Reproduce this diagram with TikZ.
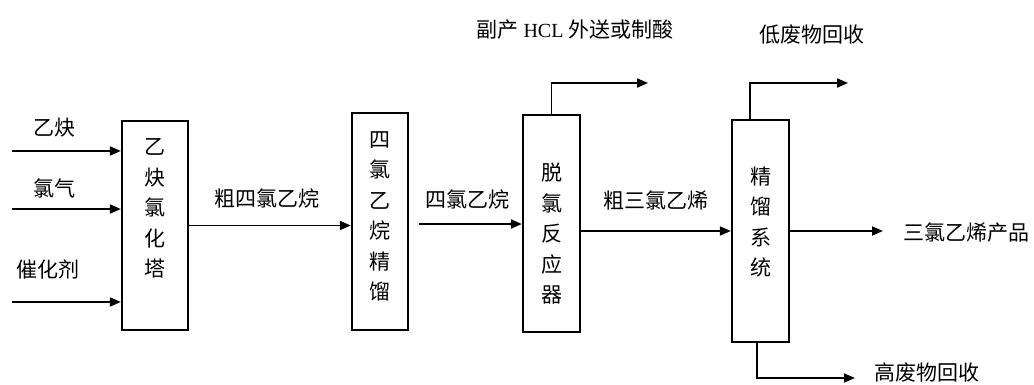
\documentclass[tikz,border=0pt]{standalone}
\usepackage{fontspec}
\setmainfont{Noto Sans CJK SC}
\newfontfamily\latinserif{Liberation Serif}
\usetikzlibrary{arrows.meta}
\begin{document}
\begin{tikzpicture}[x=1pt,y=-1pt,
  box/.style={draw, line width=2.3pt, inner sep=0pt},
  lbl/.style={inner sep=0pt, font=\fontsize{21}{30}\selectfont},
  vtext/.style={inner sep=0pt, align=center, font=\fontsize{21}{30.5}\selectfont},
  arr/.style={line width=1.9pt, -{Triangle[length=11pt,width=9pt]}}]
\useasboundingbox (0,0) rectangle (1034,385);

% boxes
\node[box, minimum width=66pt, minimum height=209pt] (b1) at (155,225.5) {};
\node[box, minimum width=56pt, minimum height=217pt] (b2) at (380,221.5) {};
\node[box, minimum width=57pt, minimum height=217pt] (b3) at (551.5,223.5) {};
\node[box, minimum width=57pt, minimum height=222pt] (b4) at (760.5,231) {};

% box texts
\node[vtext] (t1) at (155,208.5) {乙\\炔\\氯\\化\\塔};
\node[vtext] (t2) at (380,216.5) {四\\氯\\乙\\烷\\精\\馏};
\node[vtext] (t3) at (551.5,234) {脱\\氯\\反\\应\\器};
\node[vtext] (t4) at (760.5,222) {精\\馏\\系\\统};

% labels
\node[lbl] (l1) at (54,128) {乙炔};
\node[lbl] (l2) at (55,188) {氯气};
\node[lbl] (l3) at (48,270) {催化剂};
\node[lbl] (l4) at (267,199) {粗四氯乙烷};
\node[lbl] (l5) at (467,200) {四氯乙烷};
\node[lbl] (l6) at (656,200) {粗三氯乙烯};
\node[lbl] (l7) at (575,30) {副产 {\latinserif\fontsize{20}{24}\selectfont HCL} 外送或制酸};
\node[lbl] (l8) at (812,35) {低废物回收};
\node[lbl] (l9) at (966,233) {三氯乙烯产品};
\node[lbl] (l10) at (927,373) {高废物回收};

% connector ends
\coordinate (s1) at (12,151);
\coordinate (s2) at (12,209);
\coordinate (s3) at (12,302);
\coordinate (c23) at (419,224);
\coordinate (p) at (883,231);
\coordinate (h) at (648,83);
\coordinate (lw) at (848,83);
\coordinate (hw) at (855,378);

% connectors
\draw[arr] (s1) -- (s1 -| b1.west);
\draw[arr] (s2) -- (s2 -| b1.west);
\draw[arr] (s3) -- (s3 -| b1.west);
\draw[arr] (b1.east) -- (b1.east -| b2.west);
\draw[arr] (c23) -- (c23 -| b3.west);
\draw[arr] (b3.east |- b4.east) -- (b4.west);
\draw[arr] (b4.east) -- (p);
\draw[arr] (b3.north) |- (h);
\draw[arr] ([xshift=-10.5pt]b4.north) |- (lw);
\draw[arr] ([xshift=-3.5pt]b4.south) |- (hw);
\end{tikzpicture}
\end{document}
